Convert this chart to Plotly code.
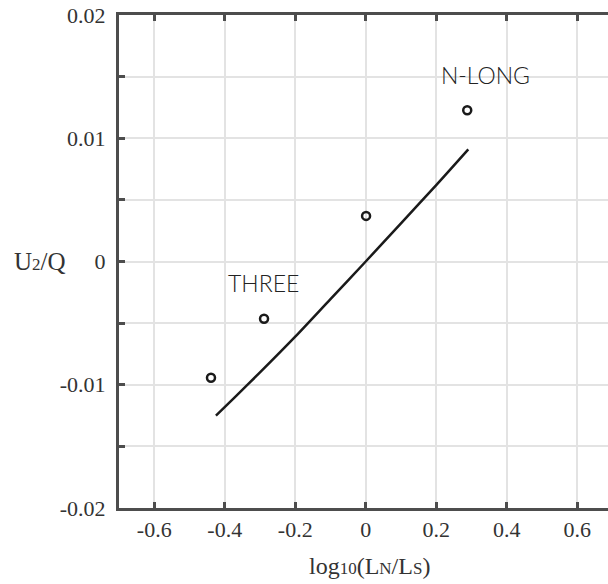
import plotly.graph_objects as go

# Data
point_x = [-0.439, -0.2885, 0.001, 0.288]
point_y = [-0.00943, -0.00465, 0.0037, 0.01227]

curve_x = [-0.425, -0.371, -0.3, -0.2, -0.1, 0.0, 0.1, 0.2, 0.291]
curve_y = [-0.0125, -0.0110, -0.0090, -0.0061, -0.00305, 0.0, 0.0031, 0.0062, 0.0091]

x_tickvals = [-0.6, -0.4, -0.2, 0, 0.2, 0.4, 0.6]
x_ticktext = ["-0.6", "-0.4", "-0.2", "0", "0.2", "0.4", "0.6"]
y_tickvals = [-0.02, -0.015, -0.01, -0.005, 0, 0.005, 0.01, 0.015, 0.02]
y_ticktext = ["-0.02", "", "-0.01", "", "0", "", "0.01", "", "0.02"]

labels = ["THREE", "N-LONG"]
label_x = [-0.29, 0.34]
label_y = [-0.00175, 0.01512]

fig = go.Figure()
fig.add_trace(go.Scatter(x=curve_x, y=curve_y, mode="lines",
                         line=dict(color="#1a1a1a", width=2.5, shape="spline", smoothing=0.8),
                         showlegend=False, hoverinfo="skip"))
fig.add_trace(go.Scatter(x=point_x, y=point_y, mode="markers",
                         marker=dict(symbol="circle-open", size=8, color="#1a1a1a",
                                     line=dict(width=2.5, color="#1a1a1a")),
                         showlegend=False))

for t, lx, ly in zip(labels, label_x, label_y):
    fig.add_annotation(x=lx, y=ly, xref="x", yref="y", text=t, showarrow=False,
                       font=dict(family="Lato", size=23, color="#222222", weight=300),
                       xanchor="center", yanchor="middle")

serif = "Liberation Serif"
axis_color = "#4d4d4d"
fig.update_xaxes(range=[-0.7, 0.6874], tickvals=x_tickvals, ticktext=x_ticktext,
                 showgrid=True, gridcolor="#e3e3e3", gridwidth=2,
                 showline=True, linecolor=axis_color, linewidth=3, mirror="ticks",
                 ticks="inside", ticklen=6, tickwidth=3, tickcolor=axis_color,
                 zeroline=False,
                 tickfont=dict(family=serif, size=22, color="#333333"))
fig.update_yaxes(range=[-0.02, 0.02], tickvals=y_tickvals, ticktext=y_ticktext,
                 showgrid=True, gridcolor="#e3e3e3", gridwidth=2,
                 showline=True, linecolor=axis_color, linewidth=3,
                 ticks="inside", ticklen=6, tickwidth=3, tickcolor=axis_color,
                 zeroline=False, ticklabelstandoff=6,
                 tickfont=dict(family=serif, size=22, color="#333333"))

small = "<span style='font-size:17px'>"
fig.add_annotation(xref="paper", yref="paper", x=0.513, y=-0.118,
                   text="log" + small + "10</span>(L" + small + "N</span>/L" + small + "S</span>)",
                   showarrow=False, xanchor="center", yanchor="middle",
                   font=dict(family=serif, size=24, color="#333333"))
fig.add_annotation(xref="paper", yref="y", x=-0.162, y=0.0,
                   text="U" + small + "2</span>/Q",
                   showarrow=False, xanchor="center", yanchor="middle",
                   font=dict(family=serif, size=25, color="#333333"))

fig.update_layout(width=608, height=584,
                  margin=dict(l=119, r=0, t=15, b=76),
                  plot_bgcolor="white", paper_bgcolor="white")

fig.write_html("out.html")
